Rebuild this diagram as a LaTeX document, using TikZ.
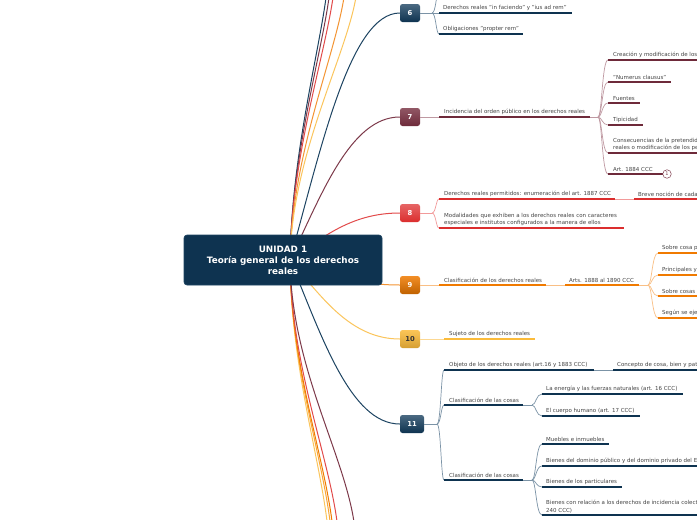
\documentclass[tikz,border=0pt]{standalone}
\usepackage{fontspec}
\setmainfont{DejaVu Sans}
\usetikzlibrary{calc}
\definecolor{nv}{HTML}{0E3350}
\definecolor{nvm}{HTML}{1D4462}
\definecolor{nvt}{HTML}{7B93A6}
\definecolor{mr}{HTML}{6E2A3A}
\definecolor{mrm}{HTML}{7D3A4A}
\definecolor{mrt}{HTML}{BF99A2}
\definecolor{rd}{HTML}{DB2E2E}
\definecolor{rdm}{HTML}{E24A4A}
\definecolor{rdt}{HTML}{F29A9A}
\definecolor{og}{HTML}{F07A00}
\definecolor{ogm}{HTML}{F39433}
\definecolor{ogt}{HTML}{F9BF85}
\definecolor{yl}{HTML}{FBBB3A}
\definecolor{ylm}{HTML}{FBC55C}
\definecolor{ylt}{HTML}{FCD892}
\definecolor{yo}{HTML}{F8A838}
\definecolor{tx}{HTML}{454545}
\newcommand\mybr[3]{\draw[thn,#1] (#2) .. controls ($(#2)+(4,0)$) and ($(#2|-#3)+(4,0)$) .. (#3);}
\tikzset{
 txt/.style={anchor=south west, inner sep=0pt, font=\fontsize{5.5}{7.3}\selectfont, text=tx, align=left},
 ul/.style={line width=2pt},
 thn/.style={line width=0.7pt},
 mainc/.style={line width=1pt},
 num/.style={rounded corners=2.5pt, minimum width=20pt, minimum height=18pt, inner sep=0pt, font=\bfseries\fontsize{6.8}{7}\selectfont, text=white},
 centerbox/.style={fill=nv, draw=nvm, line width=0.6pt, rounded corners=3pt, minimum width=198pt, minimum height=50pt, text=white, font=\bfseries\fontsize{8.8}{11}\selectfont, align=center},
}
\begin{document}
\begin{tikzpicture}[x=1pt,y=-1pt]
\useasboundingbox (0,0) rectangle (697,520);
\fill[white] (0,0) rectangle (697,520);
\clip (0,0) rectangle (697,520);

\coordinate (O) at (290,260);
% off-canvas branches
\coordinate (t1) at (327,-10);
\coordinate (t2) at (330,-10);
\coordinate (t3) at (334,-10);
\coordinate (t4) at (345,-10);
\coordinate (t5) at (357,-10);
\draw[mainc,nvm] (O) .. controls (292,150) and (320,50) .. (t1);
\draw[mainc,mrm] (O) .. controls (292,150) and (323,50) .. (t2);
\draw[mainc,rdm] (O) .. controls (292,150) and (327,50) .. (t3);
\draw[mainc,ogm] (O) .. controls (292,150) and (338,50) .. (t4);
\draw[mainc,ylm] (O) .. controls (292,150) and (350,50) .. (t5);
\coordinate (d1) at (328,530);
\coordinate (d2) at (331,530);
\coordinate (d3) at (333,530);
\coordinate (d4) at (338,530);
\coordinate (d5) at (355,530);
\draw[mainc,ylm] (O) .. controls (291,370) and (321,460) .. (d1);
\draw[mainc,yo] (O) .. controls (291,370) and (324,460) .. (d2);
\draw[mainc,og] (O) .. controls (291,370) and (326,460) .. (d3);
\draw[mainc,rdm] (O) .. controls (291,370) and (331,460) .. (d4);
\draw[mainc,mrm] (O) .. controls (291,370) and (348,460) .. (d5);

% numbered nodes
\node[num, top color=nvm!80!white, bottom color=nv] (n6) at (410,13) {6};
\node[num, top color=mrm!85!white, bottom color=mr] (n7) at (410,117) {7};
\node[num, top color=rdm!85!white, bottom color=rd] (n8) at (410,213) {8};
\node[num, top color=og!85!white, bottom color=og!80!black] (n9) at (410,285) {9};
\node[num, top color=yl!85!white, bottom color=yl!85!black, text=black!80] (n10) at (410,339) {10};
\node[num, minimum width=24pt, top color=nvm!80!white, bottom color=nv] (n11) at (412,424) {11};

% main connectors
\draw[mainc,nvm] (O) .. controls (321,149) and (350,13) .. (n6.west);
\draw[mainc,mrm] (O) .. controls (321,196) and (350,117) .. (n7.west);
\draw[mainc,rdm] (O) .. controls (321,239) and (350,213) .. (n8.west);
\draw[mainc,ogm] (O) .. controls (321,271) and (350,285) .. (n9.west);
\draw[mainc,ylm] (O) .. controls (321,296) and (350,339) .. (n10.west);
\draw[mainc,nvm] (O) .. controls (321,334) and (350,424) .. (n11.west);

\node[centerbox] (c) at (283,260) {UNIDAD 1\\Teoría general de los derechos\\reales};

% ---- 6
\coordinate (j6) at (432,13);
\coordinate (u6) at (439,-8);
\coordinate (b61) at (439,13);
\coordinate (b62) at (439,34);
\draw[thn,nvt] (n6.east) -- (j6);
\mybr{nvt}{j6}{u6}
\mybr{nvt}{j6}{b61}
\mybr{nvt}{j6}{b62}
\draw[ul,nv] (b61) -- ++(133,0);
\draw[ul,nv] (b62) -- ++(84,0);
\node[txt] at ($(b61)+(4,-2)$) {Derechos reales "in faciendo" y "ius ad rem"};
\node[txt] at ($(b62)+(4,-2)$) {Obligaciones "propter rem"};

% ---- 7
\coordinate (a7) at (439,117);
\coordinate (j7) at (598,117);
\draw[thn,mrt] (n7.east) -- (j7);
\draw[ul,mr] (a7) -- (590,117);
\node[txt] at ($(a7)+(5,-2)$) {Incidencia del orden público en los derechos reales};
\coordinate (b71) at (608,60);
\coordinate (b72) at (608,82);
\coordinate (b73) at (608,103);
\coordinate (b74) at (608,125);
\coordinate (b75) at (608,153);
\coordinate (b76) at (608,174);
\foreach \b in {b71,b72,b73,b74,b75,b76}{\mybr{mrt}{j7}{\b}}
\draw[ul,mr] (b71) -- (710,60);
\draw[ul,mr] (b72) -- (671,82);
\draw[ul,mr] (b73) -- (640,103);
\draw[ul,mr] (b74) -- (643,125);
\draw[ul,mr] (b75) -- (710,153);
\draw[ul,mr] (b76) -- (663,174);
\node[txt] at ($(b71)+(5,-2)$) {Creación y modificación de los};
\node[txt] at ($(b72)+(5,-2)$) {"Numerus clausus"};
\node[txt] at ($(b73)+(5,-2)$) {Fuentes};
\node[txt] at ($(b74)+(5,-2)$) {Tipicidad};
\node[txt] at ($(b75)+(5,-2)$) {Consecuencias de la pretendid\\reales o modificación de los pe};
\node[txt] at ($(b76)+(5,-2)$) {Art. 1884 CCC};
\node[circle, draw=mrm, line width=0.5pt, fill=white, inner sep=0pt, minimum size=8.5pt, font=\fontsize{5}{5}\selectfont, text=mrm] (k1) at (667,174) {1};

% ---- 8
\coordinate (j8) at (432,213);
\coordinate (b81) at (439,199);
\coordinate (b82) at (439,228);
\coordinate (b83) at (634,199);
\draw[thn,rdt] (n8.east) -- (j8);
\mybr{rdt}{j8}{b81}
\mybr{rdt}{j8}{b82}
\draw[ul,rd] (b81) -- (615,199);
\draw[thn,rdt] (615,199) -- (b83);
\draw[ul,rd] (b83) -- (710,199);
\draw[ul,rd] (b82) -- (624,228);
\node[txt] at ($(b81)+(5,-2)$) {Derechos reales permitidos: enumeración del art. 1887 CCC};
\node[txt] at ($(b82)+(5,-2)$) {Modalidades que exhiben a los derechos reales con caracteres\\especiales e institutos configurados a la manera de ellos};
\node[txt] at ($(b83)+(4,-2)$) {Breve noción de cada};

% ---- 9
\coordinate (a9) at (439,285);
\coordinate (a92) at (565,285);
\coordinate (j9) at (648,285);
\draw[thn,ogt] (n9.east) -- (j9);
\draw[ul,og] (a9) -- (546,285);
\draw[ul,og] (a92) -- (639,285);
\node[txt] at ($(a9)+(5,-2)$) {Clasificación de los derechos reales};
\node[txt] at ($(a92)+(4,-2)$) {Arts. 1888 al 1890 CCC};
\coordinate (b91) at (658,253);
\coordinate (b92) at (658,275);
\coordinate (b93) at (658,296);
\coordinate (b94) at (658,318);
\foreach \b in {b91,b92,b93,b94}{\mybr{ogt}{j9}{\b}\draw[ul,og] (\b) -- ++(60,0);}
\node[txt] at ($(b91)+(4,-2)$) {Sobre cosa p};
\node[txt] at ($(b92)+(4,-2)$) {Principales y};
\node[txt] at ($(b93)+(4,-2)$) {Sobre cosas};
\node[txt] at ($(b94)+(4,-2)$) {Según se eje};

% ---- 10
\coordinate (a10) at (444,339);
\draw[thn,ylt] (n10.east) -- (a10);
\draw[ul,yl] (a10) -- (535,339);
\node[txt] at ($(a10)+(5,-2)$) {Sujeto de los derechos reales};

% ---- 11
\coordinate (j11) at (437,424);
\coordinate (b111) at (444,370);
\coordinate (b112) at (444,405);
\coordinate (b113) at (444,480);
\draw[thn,nvt] (n11.east) -- (j11);
\mybr{nvt}{j11}{b111}
\mybr{nvt}{j11}{b112}
\mybr{nvt}{j11}{b113}
\coordinate (c111) at (613,370);
\draw[ul,nv] (b111) -- (594,370);
\draw[thn,nvt] (594,370) -- (c111);
\draw[ul,nv] (c111) -- (710,370);
\node[txt] at ($(b111)+(5,-2)$) {Objeto de los derechos reales (art.16 y 1883 CCC)};
\node[txt] at ($(c111)+(4,-2)$) {Concepto de cosa, bien y pat};
\coordinate (j112) at (532,405);
\draw[ul,nv] (b112) -- (523,405);
\draw[thn,nvt] (523,405) -- (j112);
\node[txt] at ($(b112)+(5,-2)$) {Clasificación de las cosas};
\coordinate (e1) at (542,394);
\coordinate (e2) at (542,416);
\mybr{nvt}{j112}{e1}
\mybr{nvt}{j112}{e2}
\draw[ul,nv] (e1) -- (683,394);
\draw[ul,nv] (e2) -- (640,416);
\node[txt] at ($(e1)+(4,-2)$) {La energía y las fuerzas naturales (art. 16 CCC)};
\node[txt] at ($(e2)+(4,-2)$) {El cuerpo humano (art. 17 CCC)};
\coordinate (j113) at (532,480);
\draw[ul,nv] (b113) -- (523,480);
\draw[thn,nvt] (523,480) -- (j113);
\node[txt] at ($(b113)+(5,-2)$) {Clasificación de las cosas};
\coordinate (f1) at (542,444);
\coordinate (f2) at (542,466);
\coordinate (f3) at (542,487);
\coordinate (f4) at (542,515);
\foreach \b in {f1,f2,f3,f4}{\mybr{nvt}{j113}{\b}}
\draw[ul,nv] (f1) -- (609,444);
\draw[ul,nv] (f2) -- (710,466);
\draw[ul,nv] (f3) -- (622,487);
\draw[ul,nv] (f4) -- (710,515);
\node[txt] at ($(f1)+(4,-2)$) {Muebles e inmuebles};
\node[txt] at ($(f2)+(4,-2)$) {Bienes del dominio público y del dominio privado del E};
\node[txt] at ($(f3)+(4,-2)$) {Bienes de los particulares};
\node[txt] at ($(f4)+(4,-2)$) {Bienes con relación a los derechos de incidencia colect\\240 CCC)};
\end{tikzpicture}
\end{document}
